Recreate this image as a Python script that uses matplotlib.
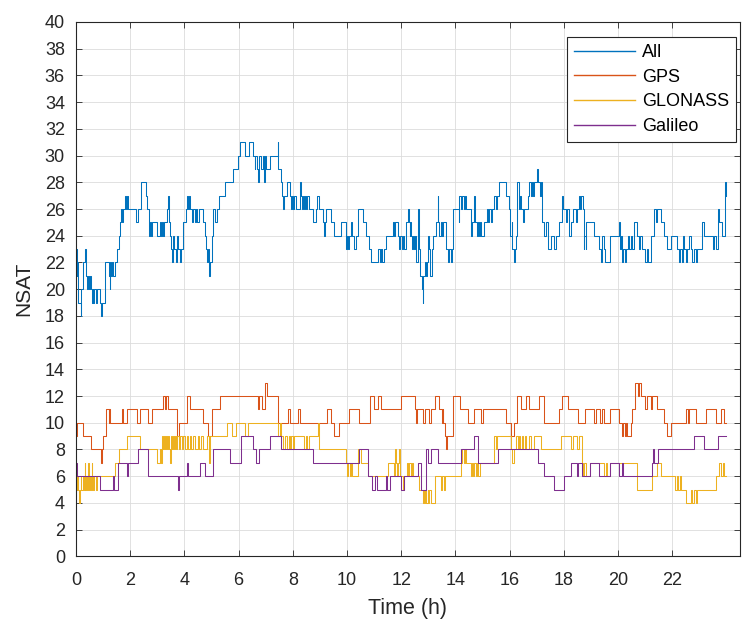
import matplotlib
matplotlib.use("Agg")
import matplotlib.pyplot as plt

# Satellite counts over one day: change-point times (h) and counts held until the next time.
all_t = [0.00, 0.02, 0.04, 0.06, 0.09, 0.17, 0.20, 0.27, 0.35, 0.38, 0.42, 0.45, 0.48, 0.51, 0.55, 0.58, 0.61, 0.64, 0.68, 0.72,
         0.76, 0.88, 0.93, 0.96, 1.07, 1.20, 1.24, 1.27, 1.30, 1.33, 1.38, 1.44, 1.53, 1.60, 1.63, 1.66, 1.69, 1.72, 1.80, 1.84,
         1.87, 1.92, 2.21, 2.30, 2.39, 2.58, 2.63, 2.71, 2.73, 2.76, 2.79, 2.98, 3.10, 3.14, 3.17, 3.21, 3.25, 3.35, 3.40, 3.43,
         3.47, 3.52, 3.55, 3.58, 3.62, 3.68, 3.72, 3.76, 3.82, 3.86, 3.96, 4.05, 4.08, 4.12, 4.16, 4.21, 4.28, 4.33, 4.38, 4.42,
         4.46, 4.52, 4.67, 4.76, 4.80, 4.85, 4.88, 4.92, 4.96, 5.00, 5.07, 5.12, 5.19, 5.29, 5.50, 5.81, 5.97, 6.05, 6.25, 6.37,
         6.53, 6.59, 6.62, 6.69, 6.72, 6.75, 6.77, 6.83, 6.90, 6.94, 6.97, 7.02, 7.14, 7.45, 7.47, 7.55, 7.60, 7.63, 7.67, 7.79,
         7.91, 7.95, 7.98, 8.02, 8.06, 8.12, 8.26, 8.29, 8.33, 8.38, 8.43, 8.46, 8.50, 8.53, 8.58, 8.74, 8.86, 8.90, 8.98, 9.10,
         9.15, 9.18, 9.23, 9.41, 9.51, 9.78, 9.96, 10.00, 10.04, 10.09, 10.15, 10.20, 10.27, 10.32, 10.39, 10.58, 10.70, 10.82, 10.88, 11.13,
         11.20, 11.25, 11.30, 11.35, 11.44, 11.68, 11.72, 11.76, 11.87, 11.92, 11.96, 12.02, 12.06, 12.12, 12.18, 12.26, 12.28, 12.31, 12.34, 12.37,
         12.40, 12.44, 12.48, 12.52, 12.55, 12.61, 12.64, 12.70, 12.76, 12.79, 12.81, 12.86, 12.90, 12.94, 12.98, 13.04, 13.08, 13.12, 13.17, 13.29,
         13.34, 13.37, 13.41, 13.45, 13.49, 13.53, 13.66, 13.72, 13.76, 13.82, 13.86, 13.90, 14.12, 14.15, 14.20, 14.24, 14.30, 14.34, 14.40, 14.58,
         14.62, 14.70, 14.74, 14.80, 14.84, 14.88, 14.92, 14.96, 15.07, 15.17, 15.21, 15.25, 15.30, 15.34, 15.44, 15.50, 15.55, 15.62, 15.87, 15.99,
         16.03, 16.07, 16.10, 16.15, 16.18, 16.22, 16.26, 16.29, 16.33, 16.38, 16.42, 16.48, 16.52, 16.66, 16.72, 16.78, 16.82, 16.87, 16.91, 17.00,
         17.03, 17.12, 17.15, 17.20, 17.28, 17.34, 17.40, 17.52, 17.64, 17.71, 17.83, 17.93, 17.96, 18.07, 18.12, 18.20, 18.26, 18.32, 18.44, 18.48,
         18.55, 18.60, 18.63, 18.70, 18.73, 18.76, 18.80, 18.83, 19.10, 19.28, 19.37, 19.42, 19.47, 19.53, 19.72, 20.02, 20.06, 20.10, 20.15, 20.20,
         20.25, 20.30, 20.35, 20.40, 20.46, 20.52, 20.58, 20.70, 20.76, 20.82, 20.89, 21.01, 21.08, 21.12, 21.20, 21.32, 21.40, 21.45, 21.57, 21.69,
         21.81, 21.94, 22.19, 22.25, 22.30, 22.36, 22.40, 22.45, 22.52, 22.56, 22.62, 22.68, 22.74, 22.80, 22.88, 22.93, 23.11, 23.17, 23.50, 23.53,
         23.60, 23.67, 23.73, 23.85, 23.94, 23.97, 24.00]
all_n = [23, 21, 22, 20, 19, 18, 20, 22, 23, 21, 20, 21, 20, 21, 20, 19, 20, 19, 20, 19,
         20, 19, 18, 19, 22, 21, 20, 22, 21, 22, 21, 22, 23, 24, 25, 26, 25, 26, 27, 26,
         27, 26, 25, 26, 28, 27, 26, 24, 25, 24, 25, 24, 25, 24, 25, 24, 25, 26, 27, 25,
         24, 23, 22, 24, 23, 22, 24, 23, 22, 23, 25, 26, 27, 26, 27, 26, 25, 26, 25, 26,
         25, 26, 25, 24, 23, 22, 23, 21, 22, 24, 26, 25, 26, 27, 28, 29, 30, 31, 30, 31,
         30, 29, 30, 29, 28, 29, 30, 29, 30, 28, 30, 29, 30, 31, 29, 28, 27, 26, 27, 28,
         27, 26, 27, 26, 27, 26, 28, 27, 26, 27, 26, 27, 26, 27, 26, 25, 26, 27, 26, 25,
         24, 25, 26, 25, 24, 25, 23, 24, 23, 24, 25, 24, 23, 24, 26, 25, 24, 23, 22, 23,
         22, 23, 22, 23, 24, 25, 24, 25, 24, 23, 24, 23, 24, 23, 25, 26, 25, 24, 25, 24,
         23, 24, 23, 24, 22, 26, 23, 21, 20, 19, 21, 22, 21, 22, 24, 23, 21, 23, 24, 25,
         27, 25, 24, 25, 24, 25, 23, 22, 23, 22, 23, 26, 25, 27, 26, 27, 26, 27, 26, 24,
         25, 27, 25, 24, 25, 24, 25, 24, 25, 26, 25, 26, 25, 26, 27, 26, 27, 28, 27, 26,
         24, 25, 23, 22, 23, 24, 25, 28, 26, 27, 26, 25, 26, 27, 28, 27, 28, 27, 28, 29,
         28, 27, 28, 25, 24, 25, 23, 24, 23, 24, 25, 27, 26, 25, 26, 24, 25, 26, 25, 26,
         27, 26, 27, 26, 23, 24, 23, 25, 24, 23, 22, 24, 23, 22, 24, 25, 23, 24, 22, 23,
         22, 23, 24, 23, 24, 23, 25, 24, 23, 24, 23, 22, 23, 22, 24, 26, 25, 26, 25, 24,
         23, 24, 23, 22, 23, 22, 24, 23, 22, 23, 24, 23, 22, 23, 22, 23, 25, 24, 23, 24,
         23, 26, 25, 24, 28, 27, 27]

gps_t = [0.00, 0.05, 0.25, 0.55, 0.94, 0.97, 0.98, 1.11, 1.20, 1.23, 1.26, 1.69, 1.75, 1.87, 2.24, 2.36, 2.67, 2.79, 3.22, 3.28,
         3.31, 3.41, 3.72, 3.80, 4.08, 4.21, 4.70, 4.88, 5.01, 5.31, 6.71, 6.77, 6.86, 6.96, 7.06, 7.47, 7.82, 7.91, 8.18, 8.25,
         9.26, 9.41, 9.53, 9.72, 10.09, 10.45, 10.86, 11.01, 11.13, 11.25, 11.99, 12.50, 12.55, 12.57, 12.80, 12.86, 13.04, 13.10, 13.23, 13.41,
         13.50, 13.53, 13.55, 13.60, 13.66, 13.70, 13.90, 14.18, 14.45, 14.70, 14.94, 15.00, 15.87, 16.05, 16.17, 16.29, 16.42, 16.60, 16.72, 17.09,
         17.28, 17.83, 17.95, 18.14, 18.54, 18.79, 19.10, 19.20, 19.35, 19.40, 19.47, 19.72, 20.02, 20.15, 20.20, 20.24, 20.30, 20.34, 20.46, 20.52,
         20.64, 20.72, 20.76, 20.83, 21.01, 21.07, 21.20, 21.26, 21.44, 21.69, 21.81, 21.94, 22.49, 22.58, 22.62, 22.86, 23.23, 23.60, 23.79, 23.91,
         24.00]
gps_n = [9, 10, 9, 8, 7, 8, 9, 11, 10, 11, 10, 11, 10, 11, 10, 11, 10, 11, 12, 11,
         12, 11, 9, 10, 12, 11, 10, 9, 11, 12, 11, 12, 11, 13, 12, 10, 11, 10, 11, 10,
         11, 10, 9, 10, 11, 10, 12, 11, 12, 11, 12, 11, 10, 11, 10, 11, 10, 11, 12, 11,
         10, 11, 10, 9, 8, 9, 12, 11, 10, 11, 10, 11, 10, 9, 10, 12, 11, 12, 11, 12,
         10, 11, 12, 11, 10, 11, 10, 11, 10, 11, 10, 11, 10, 9, 10, 9, 10, 9, 10, 11,
         13, 12, 13, 12, 11, 12, 11, 12, 11, 10, 9, 10, 11, 10, 11, 10, 11, 10, 11, 10,
         10]

glo_t = [0.00, 0.02, 0.05, 0.08, 0.12, 0.14, 0.17, 0.20, 0.24, 0.28, 0.32, 0.34, 0.38, 0.42, 0.45, 0.48, 0.52, 0.55, 0.58, 0.60,
         0.64, 0.68, 0.72, 0.76, 1.44, 1.60, 1.87, 2.36, 2.98, 3.10, 3.14, 3.17, 3.20, 3.24, 3.28, 3.32, 3.36, 3.40, 3.44, 3.47,
         3.50, 3.54, 3.58, 3.62, 3.66, 3.70, 3.74, 3.80, 3.85, 3.90, 3.96, 4.02, 4.08, 4.14, 4.20, 4.26, 4.33, 4.40, 4.50, 4.55,
         4.60, 4.67, 4.82, 4.90, 4.94, 5.56, 5.75, 5.91, 6.22, 6.34, 7.45, 7.52, 7.55, 7.63, 7.70, 7.79, 7.85, 7.91, 7.95, 8.00,
         8.05, 8.43, 8.47, 8.52, 8.58, 8.93, 8.98, 9.96, 10.00, 10.05, 10.10, 10.15, 10.20, 10.39, 10.51, 10.76, 11.50, 11.74, 11.78, 11.80,
         11.85, 11.88, 11.92, 11.95, 12.05, 12.10, 12.20, 12.25, 12.30, 12.35, 12.40, 12.45, 12.67, 12.80, 12.83, 12.86, 12.90, 12.93, 12.97, 13.00,
         13.04, 13.10, 13.23, 13.47, 13.52, 13.56, 13.60, 14.20, 14.25, 14.30, 14.35, 14.39, 14.58, 14.62, 14.66, 14.70, 14.75, 14.80, 14.85, 14.90,
         15.44, 15.50, 15.55, 16.05, 16.10, 16.15, 16.25, 16.30, 16.35, 16.40, 16.45, 16.50, 16.55, 16.62, 16.70, 16.80, 16.90, 17.15, 17.89, 18.26,
         18.32, 18.50, 18.55, 18.67, 18.72, 18.76, 18.80, 18.98, 19.47, 19.55, 19.60, 19.72, 20.70, 21.26, 21.44, 21.57, 22.12, 22.18, 22.22, 22.28,
         22.33, 22.49, 22.68, 22.72, 22.80, 22.86, 22.93, 23.60, 23.73, 23.80, 23.86, 23.92, 24.00]
glo_n = [6, 5, 6, 5, 4, 5, 6, 5, 6, 5, 7, 5, 6, 5, 7, 5, 6, 5, 7, 6,
         5, 6, 5, 6, 7, 8, 9, 8, 7, 8, 7, 9, 8, 9, 8, 9, 8, 9, 8, 7,
         9, 8, 9, 8, 9, 8, 9, 8, 9, 8, 9, 8, 9, 8, 9, 8, 9, 8, 9, 8,
         9, 8, 9, 7, 9, 10, 9, 10, 9, 10, 9, 10, 9, 8, 9, 8, 9, 8, 9, 8,
         9, 8, 9, 8, 9, 10, 8, 7, 6, 7, 6, 7, 6, 8, 7, 6, 7, 6, 8, 7,
         6, 7, 8, 6, 5, 6, 7, 6, 7, 6, 7, 6, 5, 4, 5, 4, 5, 4, 5, 4,
         5, 4, 6, 5, 6, 5, 6, 7, 8, 7, 8, 7, 6, 7, 6, 7, 6, 7, 6, 7,
         9, 8, 9, 8, 7, 8, 9, 8, 9, 8, 9, 8, 9, 8, 9, 8, 9, 8, 9, 8,
         9, 8, 9, 7, 6, 7, 6, 7, 6, 7, 6, 7, 5, 6, 7, 6, 5, 6, 5, 6,
         5, 4, 5, 4, 5, 4, 5, 6, 7, 6, 7, 6, 6]

gal_t = [0.00, 0.03, 0.89, 1.38, 1.40, 1.56, 1.87, 1.92, 2.30, 2.67, 3.78, 3.80, 4.08, 4.12, 4.58, 4.76, 5.07, 5.70, 6.10, 6.53,
         6.65, 6.77, 7.14, 7.57, 8.74, 10.45, 10.76, 10.94, 11.05, 11.10, 11.44, 11.47, 11.60, 12.00, 12.12, 12.61, 12.74, 12.92, 13.00, 13.10,
         13.35, 14.20, 14.70, 14.82, 15.56, 17.03, 17.28, 17.64, 18.00, 18.26, 18.50, 18.54, 18.67, 18.98, 19.28, 19.72, 20.02, 20.15, 20.20, 21.26,
         21.30, 21.34, 21.47, 22.80, 23.17, 23.67, 24.00]
gal_n = [7, 6, 5, 6, 5, 7, 6, 7, 8, 6, 5, 6, 7, 6, 7, 6, 8, 7, 9, 8,
         7, 8, 9, 8, 7, 8, 6, 5, 6, 5, 6, 5, 6, 5, 6, 7, 5, 8, 7, 8,
         7, 8, 9, 7, 8, 7, 6, 5, 6, 7, 6, 7, 6, 7, 6, 7, 6, 7, 6, 7,
         8, 7, 8, 9, 8, 9, 9]

series_names = ["All", "GPS", "GLONASS", "Galileo"]
series_colors = ["#0072BD", "#D95319", "#EDB120", "#7E2F8E"]

x_ticks = list(range(0, 23, 2))
y_ticks = list(range(0, 41, 2))

plt.rcParams["font.family"] = ["Liberation Sans", "DejaVu Sans"]

fig = plt.figure(figsize=(7.42, 6.21), dpi=100)
ax = fig.add_axes([76 / 742, (621 - 556.3) / 621, (740 - 76) / 742, (556.3 - 22) / 621])

for (t, n), name, color in zip([(all_t, all_n), (gps_t, gps_n), (glo_t, glo_n), (gal_t, gal_n)],
                               series_names, series_colors):
    ax.step(t, n, where="post", color=color, lw=0.75, label=name)

ax.set_xlim(0, 24.5)
ax.set_ylim(0, 40)
ax.set_xticks(x_ticks)
ax.set_yticks(y_ticks)

edge = "#262626"
for s in ax.spines.values():
    s.set_color(edge)
    s.set_linewidth(0.8)
ax.tick_params(direction="in", length=4, width=0.6, colors=edge, labelsize=13,
               top=True, right=True)
ax.tick_params(axis="x", pad=11.5)
ax.tick_params(axis="y", pad=8)
ax.grid(True, color="#dcdcdc", lw=0.6)
ax.set_axisbelow(True)

ax.set_xlabel("Time (h)", fontsize=15.5, color=edge, labelpad=6.5)
ax.set_ylabel("NSAT", fontsize=15, color=edge, labelpad=8)

leg = ax.legend(loc="upper right", bbox_to_anchor=(0.994, 0.972), borderaxespad=0,
                fontsize=13, handlelength=3.4, handletextpad=0.35, labelspacing=0.42,
                borderpad=0.4, fancybox=False, framealpha=1, edgecolor=edge)
leg.get_frame().set_linewidth(0.8)
for line in leg.get_lines():
    line.set_linewidth(1.0)

fig.savefig("out.png", dpi=100)
